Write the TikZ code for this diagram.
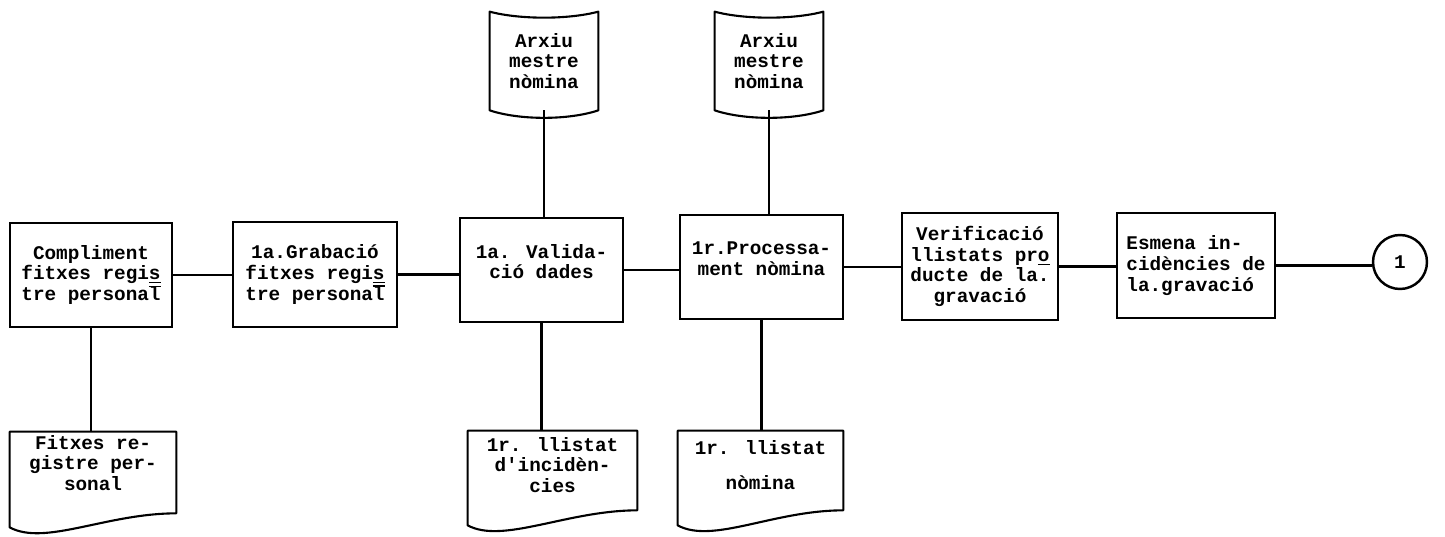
\documentclass[tikz,border=0pt]{standalone}
\usepackage{fontspec}
\setmainfont{Liberation Mono}
\usetikzlibrary{
    calc,
    positioning,
}

\newcommand\ulchar[1]{\underline{#1}}
\newcommand\olchar[1]{\rlap{\rule[0.7em]{0.6em}{0.07em}}#1}

\begin{document}
\begin{tikzpicture}[
    x=0.02cm, y=-0.02cm,
    font=\fontsize{11}{11.7}\selectfont\bfseries,
    process/.style={draw, line width=1.2pt, align=center, inner sep=2pt},
    docnode/.style={align=center, inner sep=0pt},
    outline/.style={line width=1.2pt, line join=round},
    link/.style={line width=1.6pt},
    connector/.style={draw, circle, line width=1.4pt, minimum size=1.08cm, inner sep=0pt},
]

\useasboundingbox (0,0) rectangle (1445,537);

% main row
\node[process, minimum width=3.24cm, minimum height=2.08cm] (comp) at (91,275) {Compliment\\fitxes regi\ulchar{s}\\tre persona\olchar{l}};
\node[process, minimum width=3.28cm, minimum height=2.10cm] (grab) at (315,274.5) {1a.Grabació\\fitxes regi\ulchar{s}\\tre persona\olchar{l}};
\node[process, minimum width=3.26cm, minimum height=2.08cm] (valid) at (541.5,270) {1a. Valida-\\ció dades\\[-2pt]};
\node[process, minimum width=3.26cm, minimum height=2.08cm] (proc) at (761.5,267) {1r.Processa-\\ment nòmina\\[-2pt]};
\node[process, minimum width=3.12cm, minimum height=2.14cm] (verif) at (980,266.5) {Verificació\\llistats pr\ulchar{o}\\ducte de la.\\gravació};
\node[process, align=left, minimum width=3.16cm, minimum height=2.10cm] (esmena) at (1196,265.5) {Esmena in-\\cidències de\\la.gravació};
\node[connector] (circ) at (1400,262) {1};

% files on top
\node[docnode, minimum width=2.16cm, minimum height=1.96cm] (arx1) at (544,61) {Arxiu\\mestre\\nòmina};
\node[docnode, minimum width=2.16cm, minimum height=1.96cm] (arx2) at (769,61) {Arxiu\\mestre\\nòmina};

% documents below
\node[docnode, minimum width=3.32cm, minimum height=1.24cm] (fitxes) at (93,463) {Fitxes re-\\gistre per-\\sonal};
\node[docnode, minimum width=3.38cm, minimum height=1.36cm] (incid) at (552.5,465) {1r. llistat\\d\textquotesingle incidèn-\\cies};
\node[docnode, minimum width=3.30cm, minimum height=1.36cm] (nomina) at (760.5,465) {1r. llistat\\[8.5pt]nòmina};

\foreach \n in {arx1, arx2}
    \draw[outline] (\n.north west) .. controls +(30,8) and +(-30,8) .. (\n.north east)
        -- (\n.south east) .. controls +(-30,10) and +(30,10) .. (\n.south west) -- cycle;

\foreach \n/\r/\l in {fitxes/19/33, incid/11/26, nomina/11/26}
    \draw[outline] ($(\n.south west)+(0,\l)$) -- (\n.north west) -- (\n.north east)
        -- ($(\n.south east)+(0,\r)$) .. controls +(-70,0) and +(35,19) .. ($(\n.south west)+(0,\l)$) -- cycle;

\draw[link] (comp.east) -- (comp.east -| grab.west);
\draw[link] (grab.east) -- (grab.east -| valid.west);
\draw[link] (valid.east) -- (valid.east -| proc.west);
\draw[link] (proc.east) -- (proc.east -| verif.west);
\draw[link] (verif.east) -- (verif.east -| esmena.west);
\draw[link] (esmena.east) -- (esmena.east -| circ.west);

\draw[link] (arx1) -- (arx1 |- valid.north);
\draw[link] (arx2) -- (arx2 |- proc.north);
\draw[link] (comp) -- (comp |- fitxes.north);
\draw[link] (valid) -- (valid |- incid.north);
\draw[link] (proc) -- (proc |- nomina.north);

\end{tikzpicture}
\end{document}
